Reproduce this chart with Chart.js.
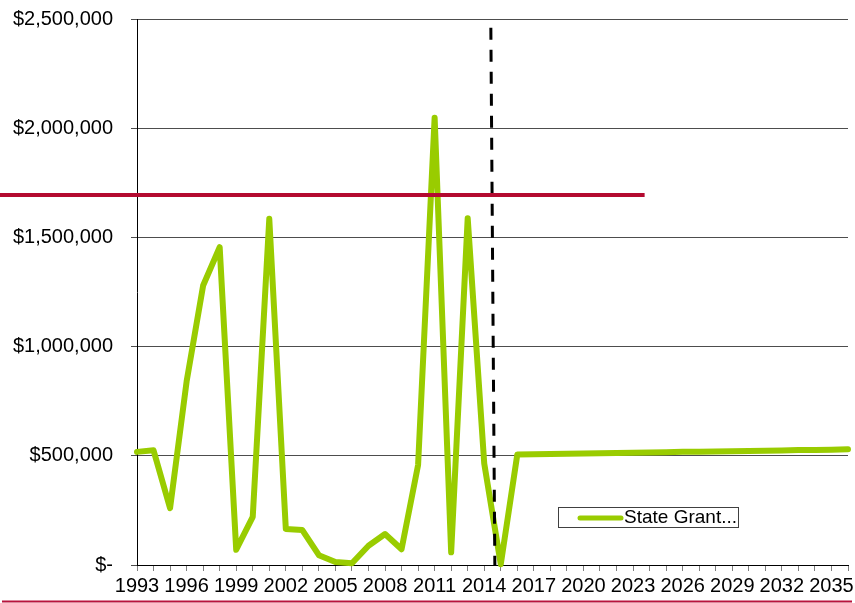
<!DOCTYPE html>
<html>
<head>
<meta charset="utf-8">
<script src="https://cdn.jsdelivr.net/npm/chart.js@4.4.1/dist/chart.umd.min.js"></script>
<style>
  html, body { margin: 0; padding: 0; background: #ffffff; }
  canvas { display: block; }
</style>
</head>
<body>
<canvas id="c" width="855" height="603"></canvas>
<script>
// ---- Data ----
const years = [1993,1994,1995,1996,1997,1998,1999,2000,2001,2002,2003,2004,2005,2006,2007,2008,2009,2010,
  2011,2012,2013,2014,2015,2016,2017,2018,2019,2020,2021,2022,2023,2024,2025,2026,2027,2028,2029,2030,
  2031,2032,2033,2034,2035,2036];
const stateGrant = [518000,525000,260000,840000,1280000,1455000,70000,220000,1585000,165000,160000,45000,
  14000,8000,88000,142000,72000,458000,2048000,58000,1588000,465000,3000,506000,507000,508000,509500,
  511000,512000,513000,514500,515500,516500,518000,519000,520000,521000,522500,523500,524500,526000,
  527000,528000,529500];
const seriesLabel = "State Grant...";
const yTicks = [0, 500000, 1000000, 1500000, 2000000, 2500000];
const thresholdValue = 1694000;     // red horizontal line
const thresholdEndYear = 2023.7;    // where the red line stops
const projectionYear = 2014.4;      // dashed vertical divider
const projectionTop = 2460000;

const labels = years.map(String);

function fmtMoney(v) {
  if (v === 0) return "$-";
  return "$" + v.toLocaleString("en-US");
}

const overlay = {
  id: "overlay",
  afterDatasetsDraw(chart) {
    const ctx = chart.ctx;
    const xs = chart.scales.x, ys = chart.scales.y;
    const idx = y => y - years[0];
    // dashed projection divider
    ctx.save();
    const xd = xs.getPixelForValue(idx(projectionYear));
    ctx.strokeStyle = "#000000";
    ctx.lineWidth = 3;
    ctx.setLineDash([12, 10]);
    ctx.beginPath();
    ctx.moveTo(xd, ys.getPixelForValue(projectionTop));
    ctx.lineTo(xd + 4, ys.getPixelForValue(0));
    ctx.stroke();
    ctx.restore();
    // red threshold line
    ctx.save();
    const yr = ys.getPixelForValue(thresholdValue);
    ctx.strokeStyle = "#B40A30";
    ctx.lineWidth = 4;
    ctx.beginPath();
    ctx.moveTo(0, yr);
    ctx.lineTo(xs.getPixelForValue(idx(thresholdEndYear)), yr);
    ctx.stroke();
    ctx.restore();
  },
  afterDraw(chart) {
    const ctx = chart.ctx;
    const ca = chart.chartArea;
    // legend box
    ctx.save();
    ctx.font = "19px 'Liberation Sans', Arial, sans-serif";
    const ds = chart.data.datasets[0];
    const tw = ctx.measureText(ds.label).width;
    const bx = ca.left + 421, by = ca.top + 488, bh = 20;
    const bw = 66 + tw + 1;
    ctx.strokeStyle = "#404040";
    ctx.lineWidth = 1;
    ctx.strokeRect(bx + 0.5, by + 0.5, bw, bh);
    ctx.strokeStyle = ds.borderColor;
    ctx.lineWidth = 5;
    ctx.lineCap = "round";
    ctx.beginPath();
    ctx.moveTo(bx + 22, by + 11);
    ctx.lineTo(bx + 63, by + 11);
    ctx.stroke();
    ctx.fillStyle = "#000000";
    ctx.textBaseline = "middle";
    ctx.fillText(ds.label, bx + 66, by + 11);
    ctx.restore();
    // bottom decorative rule
    ctx.save();
    ctx.strokeStyle = "#B8143C";
    ctx.lineWidth = 2;
    ctx.beginPath();
    ctx.moveTo(2, chart.height - 1.5);
    ctx.lineTo(852, chart.height - 1.5);
    ctx.stroke();
    ctx.restore();
  }
};

const axisFont = { family: "'Liberation Sans', Arial, sans-serif", size: 20 };

new Chart(document.getElementById("c"), {
  type: "line",
  data: {
    labels: labels,
    datasets: [{
      label: seriesLabel,
      data: stateGrant,
      borderColor: "#99CC00",
      backgroundColor: "#99CC00",
      borderWidth: 6,
      pointRadius: 0,
      tension: 0,
      borderJoinStyle: "round",
      borderCapStyle: "round",
      clip: false
    }]
  },
  options: {
    responsive: false,
    animation: false,
    layout: { padding: { top: 19, right: 7, left: 0, bottom: 0 } },
    plugins: { legend: { display: false }, tooltip: { enabled: false } },
    scales: {
      x: {
        type: "category",
        offset: false,
        border: { display: true, color: "#000000", width: 1 },
        grid: { display: true, drawOnChartArea: false, drawTicks: true, tickLength: 6, color: "#7f7f7f" },
        ticks: {
          autoSkip: false, maxRotation: 0, minRotation: 0, padding: 3,
          color: "#000000", font: axisFont,
          callback: function(v, i) { return (i % 3 === 0) ? labels[i] : ""; }
        },
        afterFit(scale) { scale.height = 38; scale.paddingLeft = 0; scale.paddingRight = 0; }
      },
      y: {
        min: 0, max: 2500000,
        border: { display: true, color: "#000000", width: 1 },
        grid: { color: "#4d4d4d", lineWidth: 1, drawTicks: true, tickLength: 6 },
        afterBuildTicks(scale) { scale.ticks = yTicks.map(v => ({ value: v })); },
        ticks: {
          padding: 18, color: "#000000", font: axisFont,
          callback: v => fmtMoney(v)
        },
        afterFit(scale) { scale.width = 137; scale.paddingTop = 0; scale.paddingBottom = 0; }
      }
    }
  },
  plugins: [overlay]
});
</script>
</body>
</html>
